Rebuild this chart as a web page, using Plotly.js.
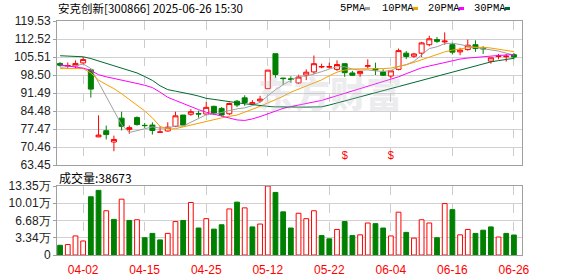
<!DOCTYPE html>
<html><head><meta charset="utf-8">
<script src="https://cdn.plot.ly/plotly-3.0.1.min.js"></script>
<style>html,body{margin:0;padding:0;background:#fff;}#c{width:578px;height:276px;}</style>
</head><body><div id="c"></div>
<script>
const dates = ['03-28','03-31','04-01','04-02','04-03','04-07','04-08','04-09','04-10','04-11',
'04-14','04-15','04-16','04-17','04-18','04-21','04-22','04-23','04-24','04-25',
'04-28','04-29','04-30','05-06','05-07','05-08','05-09','05-12','05-13','05-14',
'05-15','05-16','05-19','05-20','05-21','05-22','05-23','05-26','05-27','05-28',
'05-29','05-30','06-03','06-04','06-05','06-06','06-09','06-10','06-11','06-12',
'06-13','06-16','06-17','06-18','06-19','06-20','06-23','06-24','06-25','06-26'];
const openP = [103.0,101.9,102.0,103.2,100.5,74.4,76.8,72.4,81.7,77.3,81.9,78.9,79.0,76.2,76.7,78.5,82.9,83.2,83.5,83.3,86.3,85.5,83.4,88.3,89.6,87.2,88.4,93.2,106.8,97.3,97.0,95.4,98.5,99.7,101.6,101.6,100.7,102.9,99.3,99.0,101.9,101.0,99.7,98.1,100.7,107.0,105.8,107.0,110.3,112.3,111.4,110.3,107.5,108.4,110.3,109.0,103.9,105.7,105.6,106.4];
const highP = [103.5,103.4,104.2,105.5,101.0,82.8,78.8,74.9,84.2,78.8,82.4,79.8,80.1,78.6,80.1,84.2,82.9,85.2,84.6,88.0,86.5,86.0,87.8,88.8,90.6,88.7,90.4,100.4,106.8,97.4,98.0,98.6,100.7,106.1,102.9,103.3,104.2,103.0,100.1,99.9,104.6,103.3,100.7,100.5,108.8,107.8,107.1,111.4,113.8,113.3,115.1,111.0,109.1,112.3,112.0,109.7,105.2,106.7,106.7,107.1];
const lowP = [101.7,100.9,100.9,102.6,89.7,74.3,73.4,68.8,76.9,75.6,78.8,77.9,75.3,76.2,76.5,78.2,79.0,82.6,81.9,82.9,82.9,82.4,82.9,86.0,86.5,87.0,87.8,93.2,97.4,94.6,95.5,95.0,96.5,98.8,101.1,101.0,100.1,97.8,98.1,97.8,101.0,98.5,98.1,97.2,100.3,104.7,105.2,105.5,109.7,111.0,110.3,106.5,106.2,108.0,107.5,106.7,102.9,104.6,103.7,104.6];
const closeP = [102.3,102.2,103.0,104.5,93.0,75.1,75.3,73.4,78.5,78.0,79.2,78.8,76.9,76.3,78.2,82.6,79.0,84.2,83.3,85.9,83.7,82.9,87.4,86.8,87.8,87.7,89.1,100.4,98.7,97.1,96.8,97.7,99.6,102.9,101.8,101.7,102.6,99.4,98.4,99.9,102.1,100.5,98.4,100.1,108.0,105.7,106.7,111.0,112.6,111.6,111.7,107.4,108.2,110.1,108.8,108.7,105.2,105.9,105.8,105.5];
const ma5 = [101.5,101.8,102.0,102.8,101.0,95.6,90.2,84.3,79.1,76.1,76.9,77.6,78.3,77.8,77.9,78.6,78.6,80.1,81.5,83.0,83.2,84.0,84.6,85.3,85.7,86.6,87.9,90.5,92.8,94.7,96.4,98.1,98.0,98.8,99.8,100.8,101.7,101.7,100.8,100.4,100.5,100.1,99.9,100.2,101.8,102.5,103.8,106.3,108.8,109.5,110.7,110.9,110.3,109.8,109.2,108.7,108.3,107.8,107.0,106.3];
const ma10 = [101.0,101.0,101.0,101.0,99.3,96.5,94.8,93.2,91.2,89.0,87.0,84.5,81.8,78.5,77.4,77.6,78.3,79.0,79.8,80.6,81.2,81.8,82.4,82.9,84.0,85.0,86.3,87.6,88.8,90.2,91.8,93.0,94.3,95.5,96.6,98.2,99.6,100.4,100.8,100.9,100.9,100.9,101.0,101.2,101.8,102.5,103.4,104.4,105.5,106.6,107.5,108.2,108.7,109.1,109.3,109.3,109.0,108.5,108.0,107.6];
const ma20 = [102.4,102.0,101.6,101.2,100.3,98.6,97.8,97.2,96.4,95.8,95.2,94.5,93.6,91.8,89.8,88.6,87.3,86.0,85.0,84.0,83.3,82.6,81.8,81.0,80.8,81.4,82.3,83.4,84.6,85.5,86.2,86.9,87.5,88.0,88.6,89.5,90.4,91.3,92.2,93.1,94.0,94.9,95.8,96.8,97.8,99.0,100.2,101.3,102.0,102.7,103.4,104.2,104.7,105.1,105.4,105.7,105.9,106.1,106.3,106.5];
const ma30 = [106.0,105.9,105.8,105.6,104.9,104.0,103.1,102.2,101.2,100.3,99.3,97.9,96.4,94.3,92.8,92.2,91.7,91.0,90.3,89.4,89.0,88.5,88.1,87.7,87.3,86.9,86.6,86.3,86.1,86.0,86.0,86.0,86.0,86.0,86.1,86.8,87.6,88.4,89.3,90.1,90.9,91.7,92.4,93.1,93.9,94.7,95.5,96.3,97.1,97.9,98.8,99.6,100.5,101.3,102.1,102.9,103.6,104.1,104.6,105.0];
const volume = [1.88,2.02,3.69,2.71,11.27,12.5,8.56,6.89,10.8,6.68,6.82,3.34,4.18,2.92,4.18,6.47,6.68,10.16,5.22,7.03,5.01,5.85,8.91,10.23,9.12,5.43,5.99,13.35,12.11,8.35,5.22,8.07,7.03,8.56,3.76,3.13,4.94,6.47,3.76,3.90,6.19,6.06,5.22,3.69,8.28,4.38,3.27,6.82,6.19,3.34,9.95,8.77,3.90,4.94,4.18,4.80,5.43,3.48,4.18,3.87];
const volDir = ['d','u','u','u','d','d','u','d','u','d','u','d','d','d','u','u','d','u','d','u','d','d','u','d','u','d','u','u','d','d','d','u','u','u','d','d','u','d','d','u','u','d','d','u','u','d','u','u','u','d','u','d','u','u','d','d','d','u','d','d'];
const priceTicks = [63.45,70.46,77.47,84.48,91.49,98.50,105.51,112.52,119.53];
const priceTickText = ['63.45','70.46','77.47','84.48','91.49','98.50','105.51','112.52','119.53'];
const volTicks = [0,3.34,6.68,10.01,13.35];
const volTickText = ['0','3.34万','6.68万','10.01万','13.35万'];
const dateTicks = ['04-02','04-15','04-25','05-12','05-22','06-04','06-16','06-26'];
const markDates = ['05-26','06-04'];
const maNames = ['5PMA','10PMA','20PMA','30PMA'];
const title = '安克创新[300866] 2025-06-26 15:30';
const volLabel = '成交量:38673';

const RED='#ff0000', GREEN='#008000';
const maColors = ['#a0a0a0','#f5a000','#ff00ff','#006a30'];

const traces = [];
traces.push({type:'candlestick', x:dates, open:openP, high:highP, low:lowP, close:closeP,
  xaxis:'x2', yaxis:'y2', whiskerwidth:0, hoverinfo:'skip',
  increasing:{line:{color:RED,width:1}, fillcolor:'#ffffff'},
  decreasing:{line:{color:GREEN,width:1}, fillcolor:GREEN}});
[ma5,ma10,ma20,ma30].forEach((m,k)=>{
  traces.push({type:'scatter', mode:'lines', x:dates, y:m, xaxis:'x2', yaxis:'y2',
    line:{color:maColors[k], width:1}, hoverinfo:'skip'});
});
traces.push({type:'scatter', mode:'text', x:markDates, y:markDates.map(()=>66.9), text:markDates.map(()=>'$'),
  textfont:{color:RED, size:11, family:'Liberation Sans'}, xaxis:'x2', yaxis:'y2', hoverinfo:'skip'});
traces.push({type:'bar', x:dates, y:volume, xaxis:'x', yaxis:'y', width:0.62,
  marker:{color:volDir.map(d=>d==='u'?'#ffffff':GREEN), line:{color:volDir.map(d=>d==='u'?RED:GREEN), width:1}},
  hoverinfo:'skip'});

const L=57, R=522, T=21, B=255, W=R-L, H=B-T;
const px = x=>(x-L)/W, py = y=>(B-y)/H;

const annotations = [
  {xref:'paper', yref:'paper', x:px(56), y:py(8), xanchor:'left', yanchor:'middle', showarrow:false,
   text:title, font:{family:'Noto Sans CJK SC', size:11.5, color:'#000'}},
  {xref:'paper', yref:'paper', x:px(57), y:py(177.5), xanchor:'left', yanchor:'middle', showarrow:false,
   text:volLabel, font:{family:'Noto Sans CJK SC', size:12, color:'#000'}},
  {xref:'paper', yref:'paper', x:px(330), y:py(92), xanchor:'center', yanchor:'middle', showarrow:false,
   text:'东方财富', font:{family:'Noto Sans CJK SC', size:36, color:'rgba(190,190,200,0.28)', weight:900}}
];
const legX = [338,380,426,472], sqX = [365,413,459,505];
const shapes = [];
maNames.forEach((n,k)=>{
  annotations.push({xref:'paper', yref:'paper', x:px(legX[k]), y:py(8.5), xanchor:'left', yanchor:'middle',
    showarrow:false, text:n, font:{family:'Liberation Mono', size:10.5, color:'#000'}});
  shapes.push({type:'rect', xref:'paper', yref:'paper', x0:px(sqX[k]), x1:px(sqX[k]+5), y0:py(10), y1:py(7),
    fillcolor:maColors[k], line:{width:0}});
});

const axisCommon = {showline:true, mirror:true, linecolor:'#a0a0a0', linewidth:1, zeroline:false, fixedrange:true};
const layout = {
  width:578, height:276, margin:{l:L, r:578-R, t:T, b:276-B, pad:0},
  paper_bgcolor:'#ffffff', plot_bgcolor:'rgba(0,0,0,0)', showlegend:false,
  boxgap:0.35, boxgroupgap:0, bargap:0,
  xaxis:Object.assign({}, axisCommon, {type:'category', anchor:'y', range:[-0.4,60.05], tickmode:'array', tickvals:dateTicks,
    showgrid:true, gridcolor:'#cccccc', griddash:'dash', gridwidth:1, ticks:'outside', ticklen:4, tickcolor:'rgba(0,0,0,0)',
    tickfont:{family:'Liberation Sans', size:12, color:RED}, rangeslider:{visible:false}}),
  xaxis2:Object.assign({}, axisCommon, {type:'category', anchor:'y2', matches:'x', range:[-0.4,60.05], tickmode:'array', tickvals:dateTicks,
    showgrid:true, gridcolor:'#cccccc', griddash:'dash', gridwidth:1, showticklabels:false, ticks:'', rangeslider:{visible:false}}),
  yaxis:Object.assign({}, axisCommon, {domain:[0, py(186)], range:[0,13.35], tickmode:'array', tickvals:volTicks, ticktext:volTickText,
    showgrid:true, gridcolor:'#d0d0d0', ticks:'outside', ticklen:3, tickcolor:'#a0a0a0',
    tickfont:{family:'Liberation Sans', size:12, color:'#222'}}),
  yaxis2:Object.assign({}, axisCommon, {domain:[py(165),1], range:[63.45,119.53], tickmode:'array', tickvals:priceTicks, ticktext:priceTickText,
    showgrid:true, gridcolor:'#d0d0d0', ticks:'outside', ticklen:3, tickcolor:'#a0a0a0',
    tickfont:{family:'Liberation Sans', size:12, color:'#222'}}),
  annotations:annotations, shapes:shapes
};
Plotly.newPlot('c', traces, layout, {staticPlot:true, displayModeBar:false});
</script></body></html>
